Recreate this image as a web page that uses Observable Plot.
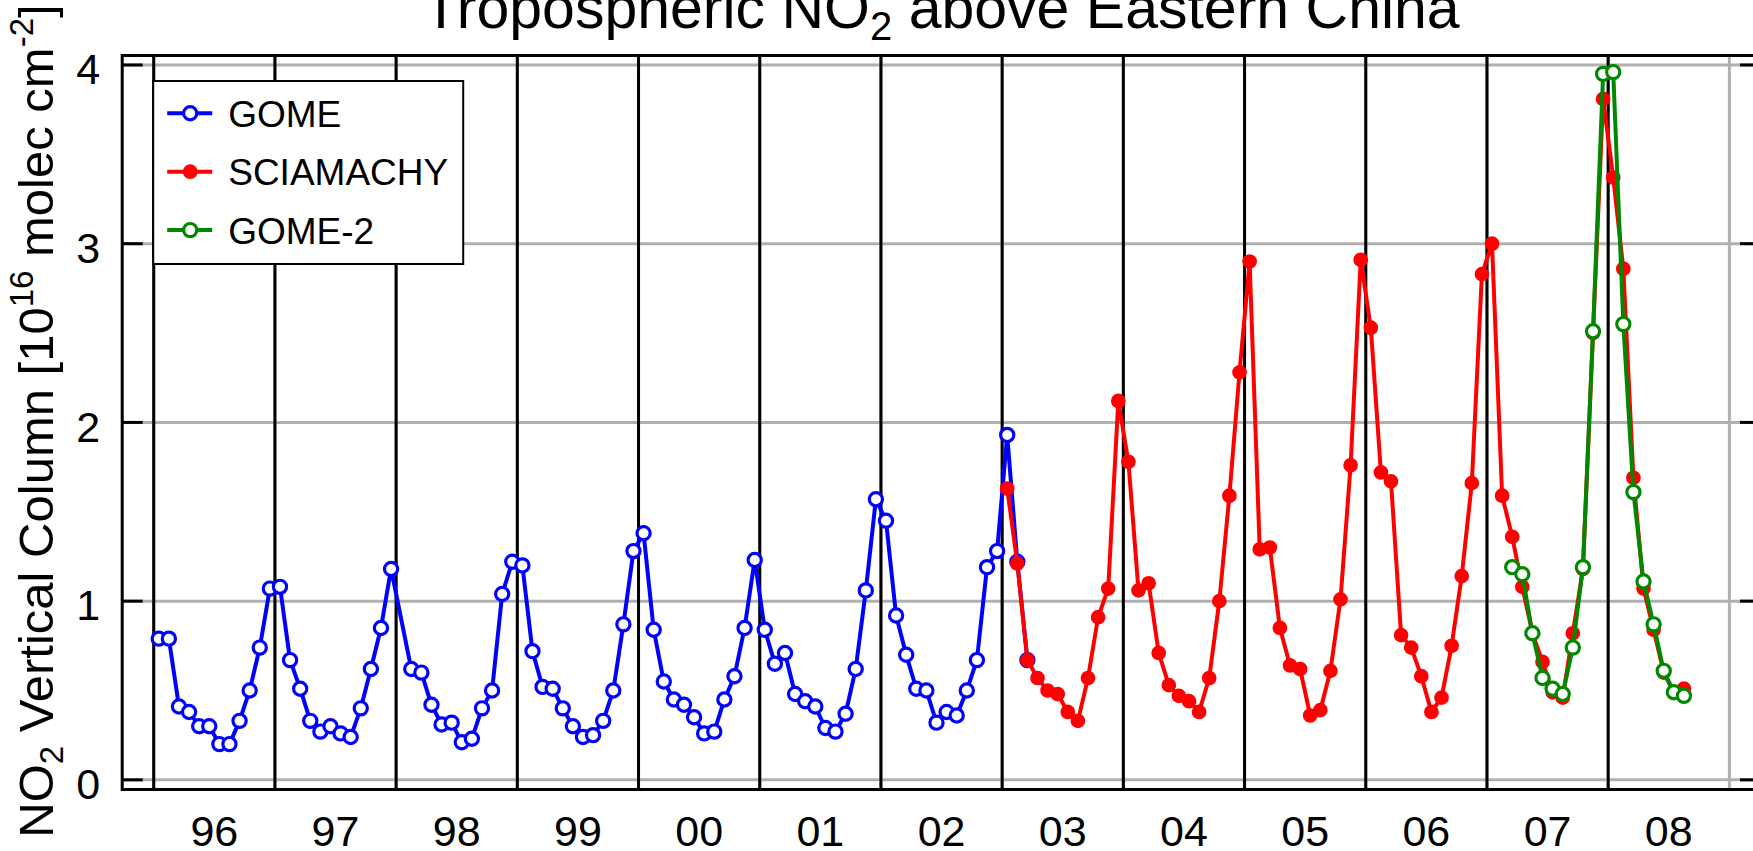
<!DOCTYPE html>
<html><head><meta charset="utf-8">
<script src="https://cdn.jsdelivr.net/npm/d3@7"></script>
<script src="https://cdn.jsdelivr.net/npm/@observablehq/plot@0.6"></script>
<style>
html,body{margin:0;padding:0;overflow:hidden;background:#fff;width:1753px;height:851px}
#chart{position:absolute;left:0;top:0;width:1800px;height:851px}
#chart svg{max-width:none !important;width:1800px;height:851px}
</style></head><body><div id="chart"></div>
<script>
// ---- data (monthly means, 10^16 molec cm^-2) ----
const years = [1996,1997,1998,1999,2000,2001,2002,2003,2004,2005,2006,2007,2008];
const yearLabels = ["96","97","98","99","00","01","02","03","04","05","06","07","08"];
const yTicks = [0,1,2,3,4];

const gomeStart = [1996, 1];
const gome = [
  0.79,0.79,0.41,0.38,0.30,0.30,0.20,0.20,0.33,0.50,0.74,1.07,
  1.08,0.67,0.51,0.33,0.27,0.30,0.26,0.24,0.40,0.62,0.85,1.18,
  null,0.62,0.60,0.42,0.31,0.32,0.21,0.23,0.40,0.50,1.04,1.22,
  1.20,0.72,0.52,0.51,0.40,0.30,0.24,0.25,0.33,0.50,0.87,1.28,
  1.38,0.84,0.55,0.45,0.42,0.35,0.26,0.27,0.45,0.58,0.85,1.23,
  0.84,0.65,0.71,0.48,0.44,0.41,0.29,0.27,0.37,0.62,1.06,1.57,
  1.45,0.92,0.70,0.51,0.50,0.32,0.38,0.36,0.50,0.67,1.19,1.28,
  1.93,1.22,0.67
];

const sciaStart = [2003, 1];
const sciamachy = [
  1.63,1.21,0.67,0.57,0.50,0.48,0.38,0.33,0.57,0.91,1.07,2.12,
  1.78,1.06,1.10,0.71,0.53,0.47,0.44,0.38,0.57,1.00,1.59,2.28,
  2.90,1.29,1.30,0.85,0.64,0.62,0.36,0.39,0.61,1.01,1.76,2.91,
  2.53,1.72,1.67,0.81,0.74,0.58,0.38,0.46,0.75,1.14,1.66,2.83,
  3.00,1.59,1.36,1.08,0.82,0.66,0.49,0.46,0.82,1.18,2.50,3.81,
  3.37,2.86,1.69,1.07,0.84,0.60,0.49,0.51
];

const gome2Start = [2007, 3];
const gome2 = [
  1.19,1.15,0.82,0.57,0.51,0.48,0.74,1.19,2.51,3.95,
  3.96,2.55,1.61,1.11,0.87,0.61,0.49,0.47
];

const seriesNames = ["GOME","SCIAMACHY","GOME-2"];
const seriesColors = ["#0000ff","#ff0000","#008800"];
const seriesFilled = [false,true,false];

// ---- build tables ----
function toRows(start, values){
  return values.map((v,i)=>({t: start[0] + (start[1]-1+i+0.5)/12, v}))
               .filter(d => d.v != null);
}
const tables = [toRows(gomeStart,gome), toRows(sciaStart,sciamachy), toRows(gome2Start,gome2)];

const W = 1800, H = 851;
const mL = 121.7, mR = 39, mT = 55, mB = 62;
const frameW = W - mL - mR;
const font = "'Liberation Sans', Arial, Helvetica, sans-serif";
const R = 6.6;
const LW = 4;

const seriesMarks = tables.flatMap((rows,k) => [
  Plot.line(rows, {x:"t", y:"v", stroke: seriesColors[k], strokeWidth: LW, strokeLinejoin:"miter", strokeLinecap:"butt"}),
  Plot.dot(rows, {x:"t", y:"v", r: R, stroke: seriesColors[k], strokeWidth: seriesFilled[k] ? 1.5 : 3.2,
                  fill: seriesFilled[k] ? seriesColors[k] : "white"})
]);

const plot = Plot.plot({
  width: W, height: H,
  marginLeft: mL, marginRight: mR, marginTop: mT, marginBottom: mB,
  x: {domain: [1995.74, 2009.265]},
  y: {domain: [-0.054, 4.053]},
  style: {fontFamily: font, background: "white", color: "black", overflow: "visible", maxWidth: "none"},
  marks: [
    Plot.gridY(yTicks, {stroke: "#b0b0b0", strokeOpacity: 1, strokeWidth: 3}),
    Plot.gridX([...years, 2009], {stroke: "#b0b0b0", strokeOpacity: 1, strokeWidth: 3}),
    Plot.ruleX(years, {stroke: "black", strokeWidth: 3}),
    Plot.tickY(yTicks, {stroke: "black", strokeWidth: 3, insetRight: frameW - 21}),
    Plot.tickY(yTicks, {stroke: "black", strokeWidth: 3, insetLeft: frameW - 21}),
    ...seriesMarks,
    Plot.frame({stroke: "black", strokeWidth: 3}),
    Plot.axisY(yTicks, {anchor: "left", tickSize: 0, tickPadding: 22, fontSize: 43, dy: 5.5, label: null,
      tickFormat: d => String(d)}),
    Plot.axisX(years.map(y => y + 0.5), {anchor: "bottom", tickSize: 0, tickPadding: 26, fontSize: 43,
      tickFormat: d => yearLabels[years.indexOf(Math.round(d - 0.5))], label: null})
  ]
});
document.getElementById("chart").appendChild(plot);

// ---- title, y label, legend ----
const svg = d3.select(plot);
const xs = plot.scale("x");
const cx = (mL + (W - mR)) / 2;

const title = svg.append("text").attr("x", cx).attr("y", 28).attr("text-anchor","middle")
  .attr("font-family", font).attr("font-size", 59).attr("fill","black");
title.append("tspan").text("Tropospheric NO");
title.append("tspan").attr("font-size", 40).attr("dy", 12).text("2");
title.append("tspan").attr("dy", -12).text(" above Eastern China");

const cy = 421;
const yl = svg.append("text").attr("transform", `translate(53,${cy}) rotate(-90)`).attr("text-anchor","middle")
  .attr("font-family", font).attr("font-size", 49).attr("fill","black");
yl.append("tspan").text("NO");
yl.append("tspan").attr("font-size", 33).attr("dy", 10).text("2");
yl.append("tspan").attr("dy", -10).text(" Vertical Column [10");
yl.append("tspan").attr("font-size", 33).attr("dy", -20).text("16");
yl.append("tspan").attr("dy", 20).text(" molec cm");
yl.append("tspan").attr("font-size", 33).attr("dy", -20).text("-2");
yl.append("tspan").attr("dy", 20).text("]");

const lx = xs.apply(1996);
const lg = svg.append("g");
lg.append("rect").attr("x", lx).attr("y", 81).attr("width", 310).attr("height", 183)
  .attr("fill","white").attr("stroke","black").attr("stroke-width", 2);
seriesNames.forEach((name, i) => {
  const yy = 113.3 + i * 58.4;
  lg.append("line").attr("x1", lx + 14).attr("x2", lx + 59).attr("y1", yy).attr("y2", yy)
    .attr("stroke", seriesColors[i]).attr("stroke-width", LW);
  lg.append("circle").attr("cx", lx + 37).attr("cy", yy).attr("r", R)
    .attr("stroke", seriesColors[i]).attr("stroke-width", seriesFilled[i] ? 1.5 : 3.2)
    .attr("fill", seriesFilled[i] ? seriesColors[i] : "white");
  lg.append("text").attr("x", lx + 75).attr("y", yy + 13.5).attr("text-anchor","start")
    .attr("font-family", font).attr("font-size", 37).attr("fill","black").text(name);
});
</script></body></html>
